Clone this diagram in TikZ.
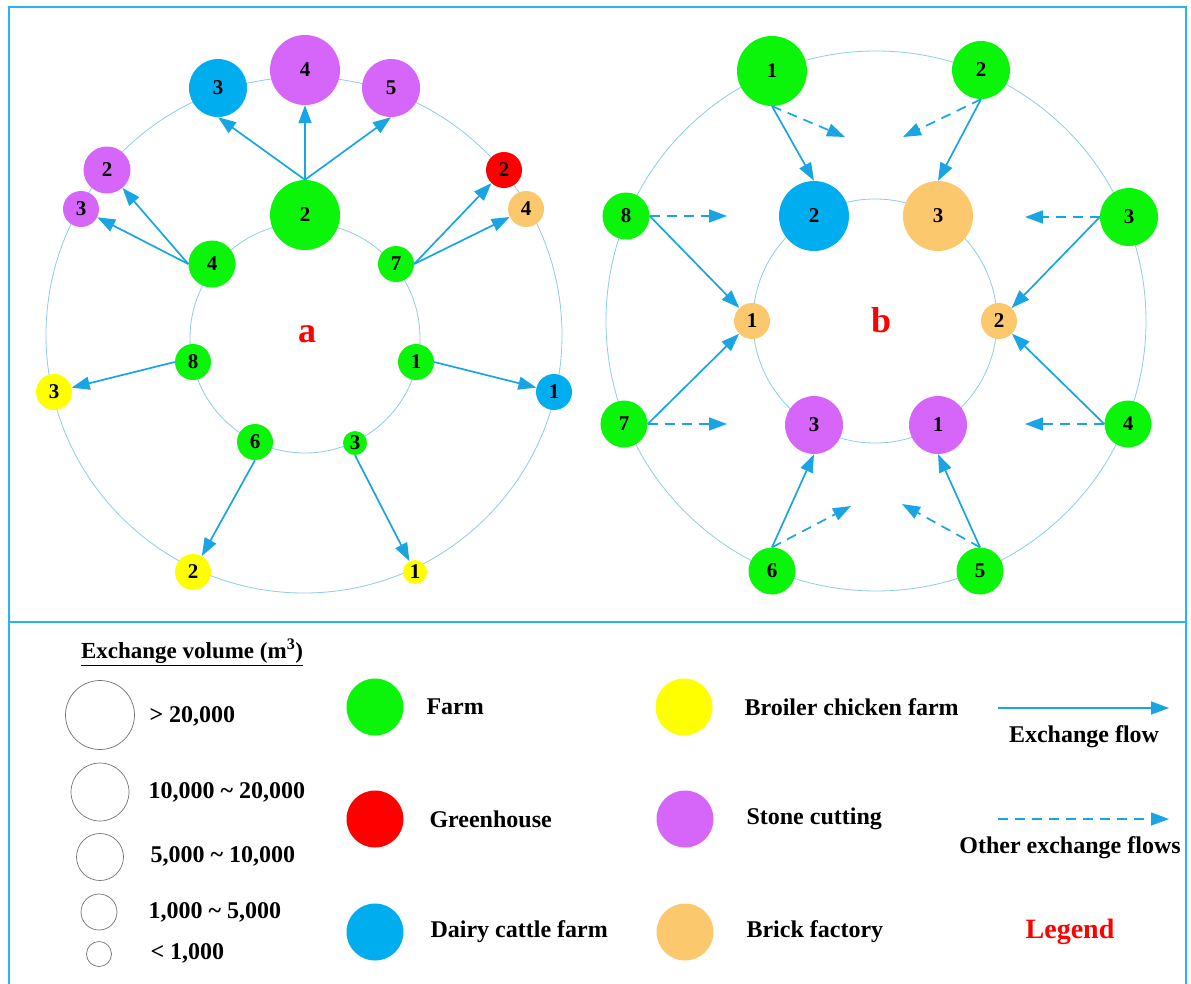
\documentclass[tikz,border=0pt]{standalone}
\usepackage{fontspec}
\setmainfont{Liberation Serif}
\usetikzlibrary{arrows.meta}
\definecolor{cgreen}{RGB}{10,245,10}
\definecolor{cpurple}{RGB}{214,102,250}
\definecolor{cblue}{RGB}{0,174,239}
\definecolor{cred}{RGB}{255,0,0}
\definecolor{cyellow}{RGB}{255,255,0}
\definecolor{corange}{RGB}{252,200,110}
\definecolor{carrow}{RGB}{25,165,228}
\definecolor{cring}{RGB}{140,205,232}
\definecolor{cframe}{RGB}{40,180,240}
\begin{document}
\begin{tikzpicture}[x=1pt,y=-1pt,
  nd/.style={circle,inner sep=0pt,font=\bfseries\fontsize{21}{21}\selectfont},
  sA/.style={nd,minimum size=70pt},
  sB/.style={nd,minimum size=58pt},
  sC/.style={nd,minimum size=47pt},
  sD/.style={nd,minimum size=36pt},
  sE/.style={nd,minimum size=24pt},
  farm/.style={fill=cgreen},
  green/.style={fill=cred},
  dairy/.style={fill=cblue},
  broiler/.style={fill=cyellow},
  stone/.style={fill=cpurple},
  brick/.style={fill=corange},
  ring/.style={draw=cring,line width=0.8pt},
  flow/.style={draw=carrow,line width=1.7pt,-{Triangle[length=18pt,width=13pt]}},
  oflow/.style={flow,dash pattern=on 10pt off 7pt},
  frame/.style={draw=cframe,line width=1.6pt},
  lbl/.style={anchor=west,font=\bfseries\fontsize{24}{24}\selectfont},
  vol/.style={circle,draw=black!55,line width=0.7pt,inner sep=0pt},
  key/.style={circle,inner sep=0pt,minimum size=57pt},
  panel/.style={text=red,font=\bfseries\fontsize{36}{36}\selectfont}
]
\useasboundingbox (0,0) rectangle (1191,983);
\fill[white] (0,0) rectangle (1191,983);
% frame
\draw[frame] (9,995) -- (9,7) -- (1186,7) -- (1186,995);
\draw[frame] (9,622) -- (1186,622);

% rings
\draw[ring] (304,335) circle (258pt);
\draw[ring] (305,338) circle (115pt);
\draw[ring] (876,321) circle (270pt);
\draw[ring] (875,321) circle (122pt);

% panel a nodes
\node[sA,farm] (a2g) at (305,215) {2};
\node[sC,farm] (a4g) at (212,264) {4};
\node[sD,farm] (a7g) at (396,264) {7};
\node[sD,farm] (a8g) at (193,362) {8};
\node[sD,farm] (a1g) at (416,362) {1};
\node[sD,farm] (a6g) at (255,442) {6};
\node[sE,farm] (a3g) at (355,443) {3};
\node[sB,dairy] (a3d) at (218,88) {3};
\node[sA,stone] (a4s) at (305,70) {4};
\node[sB,stone] (a5s) at (391,88) {5};
\node[sC,stone] (a2s) at (107,170) {2};
\node[sD,stone] (a3s) at (81,209) {3};
\node[sD,green] (a2r) at (504,170) {2};
\node[sD,brick] (a4b) at (526,209) {4};
\node[sD,broiler] (a3y) at (54,392) {3};
\node[sD,dairy] (a1d) at (554,392) {1};
\node[sD,broiler] (a2y) at (193,572) {2};
\node[sE,broiler] (a1y) at (415,572) {1};
\node[panel] (la) at (307,334) {a};

\draw[flow] (a2g.north) -- (a3d.south);
\draw[flow] (a2g.north) -- (a4s.south);
\draw[flow] (a2g.north) -- (a5s.south);
\draw[flow] (a4g.west) -- (a2s);
\draw[flow] (a4g.west) -- (a3s);
\draw[flow] (a7g.east) -- (a2r);
\draw[flow] (a7g.east) -- (a4b);
\draw[flow] (a8g.west) -- (a3y);
\draw[flow] (a1g.east) -- (a1d);
\draw[flow] (a6g.south) -- (a2y);
\draw[flow] (a3g.south) -- (a1y);

% panel b nodes
\node[sA,farm] (b1g) at (772,71) {1};
\node[sB,farm] (b2g) at (981,70) {2};
\node[sC,farm] (b8g) at (626,216) {8};
\node[sB,farm] (b3g) at (1129,217) {3};
\node[sC,farm] (b7g) at (624,424) {7};
\node[sC,farm] (b4g) at (1128,424) {4};
\node[sC,farm] (b6g) at (772,571) {6};
\node[sC,farm] (b5g) at (980,571) {5};
\node[sA,dairy] (b2d) at (814,216) {2};
\node[sA,brick] (b3b) at (938,216) {3};
\node[sD,brick] (b1b) at (752,321) {1};
\node[sD,brick] (b2b) at (999,321) {2};
\node[sB,stone] (b3s) at (814,425) {3};
\node[sB,stone] (b1s) at (938,425) {1};
\node[panel] (lb) at (881,320) {b};

\draw[flow] (b1g.south) -- (b2d.north);
\draw[flow] (b2g.south) -- (b3b.north);
\draw[flow] (b8g.east) -- (b1b);
\draw[flow] (b7g.east) -- (b1b);
\draw[flow] (b3g.west) -- (b2b);
\draw[flow] (b4g.west) -- (b2b);
\draw[flow] (b6g.north) -- (b3s.south);
\draw[flow] (b5g.north) -- (b1s.south);

\coordinate (d1) at (845,137);
\coordinate (d2) at (903,137);
\coordinate (d8) at (727,216);
\coordinate (d3) at (1025,217);
\coordinate (d7) at (727,424);
\coordinate (d4) at (1025,424);
\coordinate (d6) at (851,506);
\coordinate (d5) at (902,504);
\draw[oflow] (b1g.south) -- (d1);
\draw[oflow] (b2g.south) -- (d2);
\draw[oflow] (b8g.east) -- (d8);
\draw[oflow] (b3g.west) -- (d3);
\draw[oflow] (b7g.east) -- (d7);
\draw[oflow] (b4g.west) -- (d4);
\draw[oflow] (b6g.north) -- (d6);
\draw[oflow] (b5g.north) -- (d5);

% legend: volumes
\node[font=\bfseries\fontsize{23}{23}\selectfont] (evt) at (192,652) {\underline{Exchange volume (m\textsuperscript{3})}};
\node[vol,minimum size=69pt] (v1) at (100,715) {};
\node[vol,minimum size=58pt] (v2) at (100,792) {};
\node[vol,minimum size=47pt] (v3) at (100,857) {};
\node[vol,minimum size=36pt] (v4) at (99,912) {};
\node[vol,minimum size=25pt] (v5) at (99,954) {};
\node[lbl] (t1) at (146,716) {> 20,000};
\node[lbl] (t2) at (145,792) {10,000 \char`~\ 20,000};
\node[lbl] (t3) at (147,856) {5,000 \char`~\ 10,000};
\node[lbl] (t4) at (145,912) {1,000 \char`~\ 5,000};
\node[lbl] (t5) at (147,953) {< 1,000};

% legend: categories
\node[key,farm] (k1) at (375,707) {};
\node[key,green] (k2) at (375,819) {};
\node[key,dairy] (k3) at (375,932) {};
\node[key,broiler] (k4) at (684,707) {};
\node[key,stone] (k5) at (685,819) {};
\node[key,brick] (k6) at (685,932) {};
\node[lbl] (c1) at (423,707) {Farm};
\node[lbl] (c2) at (426,819) {Greenhouse};
\node[lbl] (c3) at (427,932) {Dairy cattle farm};
\node[lbl] (c4) at (741,707) {Broiler chicken farm};
\node[lbl] (c5) at (743,819) {Stone cutting};
\node[lbl] (c6) at (743,932) {Brick factory};

% legend: flows
\coordinate (e1) at (998,708);
\coordinate (e2) at (1169,708);
\coordinate (o1) at (998,819);
\coordinate (o2) at (1169,819);
\draw[flow,line width=1.4pt] (e1) -- (e2);
\draw[oflow,line width=1.4pt] (o1) -- (o2);
\node[font=\bfseries\fontsize{24}{24}\selectfont] (ef) at (1084,737) {Exchange flow};
\node[font=\bfseries\fontsize{24}{24}\selectfont] (of) at (1070,848) {Other exchange flows};
\node[text=red,font=\bfseries\fontsize{28}{28}\selectfont] (lg) at (1070,932) {Legend};
\end{tikzpicture}
\end{document}
